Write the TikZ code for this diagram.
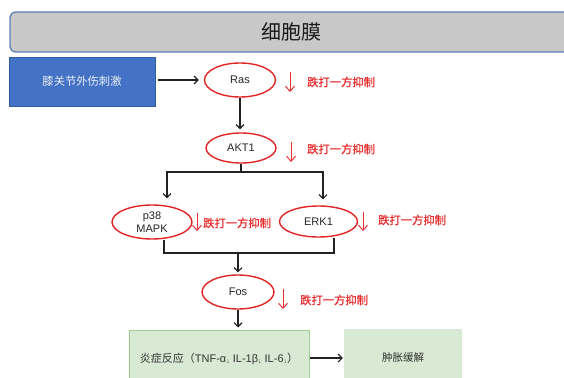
\documentclass[tikz,border=0pt]{standalone}
\usepackage{fontspec}
\setmainfont{Liberation Sans}
\newfontfamily\cjk{Noto Sans CJK SC}
\newfontfamily\cjkm[FakeBold=1.2]{Noto Sans CJK SC}
\usetikzlibrary{shapes.geometric,arrows.meta}
\definecolor{inhred}{RGB}{232,48,48}
\definecolor{ellred}{RGB}{226,36,36}
\definecolor{titlefill}{RGB}{200,200,200}
\definecolor{titleedge}{RGB}{96,124,178}
\definecolor{bluefill}{RGB}{68,114,196}
\definecolor{blueedge}{RGB}{52,90,160}
\definecolor{greenfill}{RGB}{216,234,211}
\definecolor{greenedge}{RGB}{160,206,140}
\definecolor{linecol}{RGB}{34,34,34}
\tikzset{
  oval/.style={ellipse, draw=ellred, line width=1.4pt, inner sep=0pt, font=\fontsize{11}{13}\selectfont, text=black!85},
  conn/.style={draw=linecol, line width=1.1pt},
  arr/.style={conn, -{Straight Barb[length=4pt,width=8pt,line width=1.1pt]}},
  inharr/.style={draw=inhred, line width=1pt, -{Straight Barb[length=5pt,width=9pt,line width=1pt]}},
  inhtext/.style={text=inhred, font=\cjkm\fontsize{11.3}{13}\selectfont, anchor=west, inner sep=0pt},
  greenbox/.style={rectangle, fill=greenfill, inner sep=0pt, text=black!80},
}
\begin{document}
\begin{tikzpicture}[x=1pt,y=-1pt]
\useasboundingbox (0,0) rectangle (564,377);
% title bar
\node[rectangle, rounded corners=6pt, fill=titlefill, draw=titleedge, line width=1.3pt,
      minimum width=562pt, minimum height=40pt, inner sep=0pt,
      font=\cjk\fontsize{20}{23}\selectfont, text=black!90] (title) at (291,32) {细胞膜};
% stimulus
\node[rectangle, fill=bluefill, draw=blueedge, line width=0.8pt, minimum width=146pt, minimum height=49pt,
      inner sep=0pt, font=\cjk\fontsize{11.3}{13}\selectfont, text=white!90!bluefill] (stim) at (82,81.5) {膝关节外伤刺激};
% pathway nodes
\node[oval, minimum width=71pt, minimum height=34pt] (ras) at (240,80) {Ras};
\node[oval, minimum width=70pt, minimum height=30pt] (akt) at (241,148) {AKT1};
\node[oval, minimum width=80pt, minimum height=34pt, align=center, font=\fontsize{11}{12.5}\selectfont] (p38) at (152,222) {p38\\MAPK};
\node[oval, minimum width=78pt, minimum height=31pt] (erk) at (318.5,221.5) {ERK1};
\node[oval, minimum width=72pt, minimum height=34pt] (fos) at (238,292) {Fos};
% outcome boxes
\node[greenbox, draw=greenedge, line width=1pt, minimum width=180pt, minimum height=58pt,
      font=\fontsize{11}{13}\selectfont] (inflam) at (219,359)
  {{\cjk 炎症反应（}TNF-α{\scriptsize\raisebox{-1pt}{↓}} IL-1β{\scriptsize\raisebox{-1pt}{↓}} IL-6{\scriptsize\raisebox{-1pt}{↓}}{\cjk ）}};
\node[greenbox, minimum width=118pt, minimum height=58pt, font=\cjk\fontsize{10.5}{13}\selectfont] (relief) at (403,358) {肿胀缓解};
% connectors
\draw[arr, shorten <=3pt, shorten >=5pt] (stim.east |- ras.west) -- (ras.west);
\draw[arr, shorten >=3pt] (ras.south) -- (ras.south |- akt.north);
\coordinate (brL) at (167,172);
\coordinate (brR) at (323,172);
\draw[conn] (akt.south) -- (akt.south |- brL);
\draw[arr, shorten >=6pt] (brR) -- (brL) -- (brL |- p38.north);
\draw[arr, shorten >=6pt] (brL) -- (brR) -- (brR |- erk.north);
\coordinate (mgL) at (164,253);
\coordinate (mgR) at (334,253);
\coordinate (mgM) at (238,253);
\draw[conn] ([xshift=12pt]p38.south) -- (mgL) -- (mgR) -- ([xshift=15.5pt]erk.south);
\draw[arr, shorten >=2pt] (mgM) -- (fos.north);
\draw[arr, shorten >=2pt] (fos.south) -- (fos.south |- inflam.north);
\draw[arr, shorten >=1pt] (inflam.east |- relief.west) -- (relief.west);
% inhibition marks
\coordinate (i1a) at (290,72);  \coordinate (i1b) at (290,92);
\coordinate (i2a) at (291,142); \coordinate (i2b) at (291,162);
\coordinate (i3a) at (197,213); \coordinate (i3b) at (197,231);
\coordinate (i4a) at (363,212); \coordinate (i4b) at (363,231);
\coordinate (i5a) at (283,289); \coordinate (i5b) at (283,309);
\draw[inharr] (i1a) -- (i1b);
\draw[inharr] (i2a) -- (i2b);
\draw[inharr] (i3a) -- (i3b);
\draw[inharr] (i4a) -- (i4b);
\draw[inharr] (i5a) -- (i5b);
\node[inhtext] (t1) at (307,82) {跌打一方抑制};
\node[inhtext] (t2) at (307,149) {跌打一方抑制};
\node[inhtext] (t3) at (203,223) {跌打一方抑制};
\node[inhtext] (t4) at (378,220) {跌打一方抑制};
\node[inhtext] (t5) at (300,300) {跌打一方抑制};
\end{tikzpicture}
\end{document}
